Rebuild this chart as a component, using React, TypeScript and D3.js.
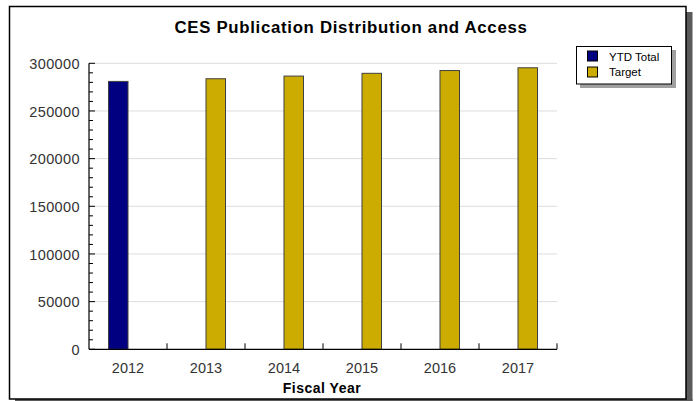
import React from "react";
import * as d3 from "d3";

const years = ["2012", "2013", "2014", "2015", "2016", "2017"];
const seriesNames = ["YTD Total", "Target"];
const ytdTotal: (number | null)[] = [281000, null, null, null, null, null];
const target: (number | null)[] = [null, 283800, 286600, 289500, 292400, 295300];
const seriesColors = ["#000080", "#ccac00"];
const yTicks = [0, 50000, 100000, 150000, 200000, 250000, 300000];

const W = 696;
const H = 401;
const FONT = "'Liberation Sans', Arial, sans-serif";

export default function App() {
  const left = 89, right = 557, top = 63.3, bottom = 349.3;
  const x = d3.scaleBand<string>().domain(years).range([left, right]).paddingInner(0).paddingOuter(0);
  const xs = d3.scaleBand<string>().domain(seriesNames).range([0, x.bandwidth()]).paddingInner(0).paddingOuter(1);
  const y = d3.scaleLinear().domain([0, 300000]).range([bottom, top]);
  const minor = d3.range(0, 300001, 10000).filter((v) => v % 50000 !== 0);
  const data = [ytdTotal, target];

  return (
    <svg width={W} height={H} style={{ position: "absolute", left: 0, top: 0 }} fontFamily={FONT}>
      <rect x={0} y={0} width={W} height={H} fill="#fff" />
      {/* frame shadow */}
      <rect x={686} y={12} width={6.5} height={392} fill="#5a5a5a" />
      <rect x={15} y={399} width={677.5} height={6} fill="#5a5a5a" />
      <rect x={9.5} y={6.5} width={676.5} height={392.5} fill="#fff" stroke="#000" strokeWidth={1.5} />

      <text x={351} y={32.5} textAnchor="middle" fontSize={16.8} fontWeight="bold" fill="#000" letterSpacing={0.7}>
        CES Publication Distribution and Access
      </text>

      {/* gridlines */}
      {yTicks.filter((t) => t > 0).map((t) => (
        <line key={"g" + t} x1={left} x2={right} y1={y(t)} y2={y(t)} stroke="#dcdcdc" strokeWidth={1} />
      ))}

      {/* bars */}
      {data.map((vals, si) =>
        vals.map((v, i) =>
          v == null ? null : (
            <rect
              key={si + "-" + i}
              x={(x(years[i]) as number) + (xs(seriesNames[si]) as number)}
              y={y(v)}
              width={xs.bandwidth()}
              height={bottom - y(v)}
              fill={seriesColors[si]}
              stroke="#404040"
              strokeWidth={1}
            />
          )
        )
      )}

      {/* y axis */}
      <line x1={left} x2={left} y1={top} y2={bottom} stroke="#000" strokeWidth={1.2} />
      {yTicks.map((t) => (
        <g key={"y" + t}>
          <line x1={left} x2={left + 6} y1={y(t)} y2={y(t)} stroke="#000" />
          <text x={80} y={y(t)} dy="0.4em" textAnchor="end" fontSize={14.5} fill="#333" letterSpacing={0.4}>
            {t}
          </text>
        </g>
      ))}
      {minor.map((t) => (
        <line key={"m" + t} x1={left} x2={left + 4} y1={y(t)} y2={y(t)} stroke="#000" />
      ))}

      {/* x axis */}
      <line x1={left} x2={right} y1={bottom} y2={bottom} stroke="#000" strokeWidth={1.2} />
      {years.map((yr, i) => (
        <g key={"x" + yr}>
          <line
            x1={(x(yr) as number) + x.bandwidth()}
            x2={(x(yr) as number) + x.bandwidth()}
            y1={bottom}
            y2={bottom - 6}
            stroke="#000"
          />
          <text x={(x(yr) as number) + x.bandwidth() / 2} y={372.5} textAnchor="middle" fontSize={14.5} fill="#333">
            {yr}
          </text>
        </g>
      ))}
      <text x={322} y={393} textAnchor="middle" fontSize={14} fontWeight="bold" fill="#000" letterSpacing={0.5}>
        Fiscal Year
      </text>

      {/* legend */}
      <rect x={580} y={50} width={96} height={38} fill="#a0a0a0" />
      <rect x={576.5} y={46.5} width={95} height={37.5} fill="#fff" stroke="#000" strokeWidth={1} />
      {seriesNames.map((s, i) => (
        <g key={"l" + s}>
          <rect x={587.5} y={51 + i * 16} width={10} height={10} fill={seriesColors[i]} stroke="#000" strokeWidth={1} />
          <text x={609} y={60.5 + i * 15} fontSize={11.5} fill="#000">
            {s}
          </text>
        </g>
      ))}
    </svg>
  );
}
